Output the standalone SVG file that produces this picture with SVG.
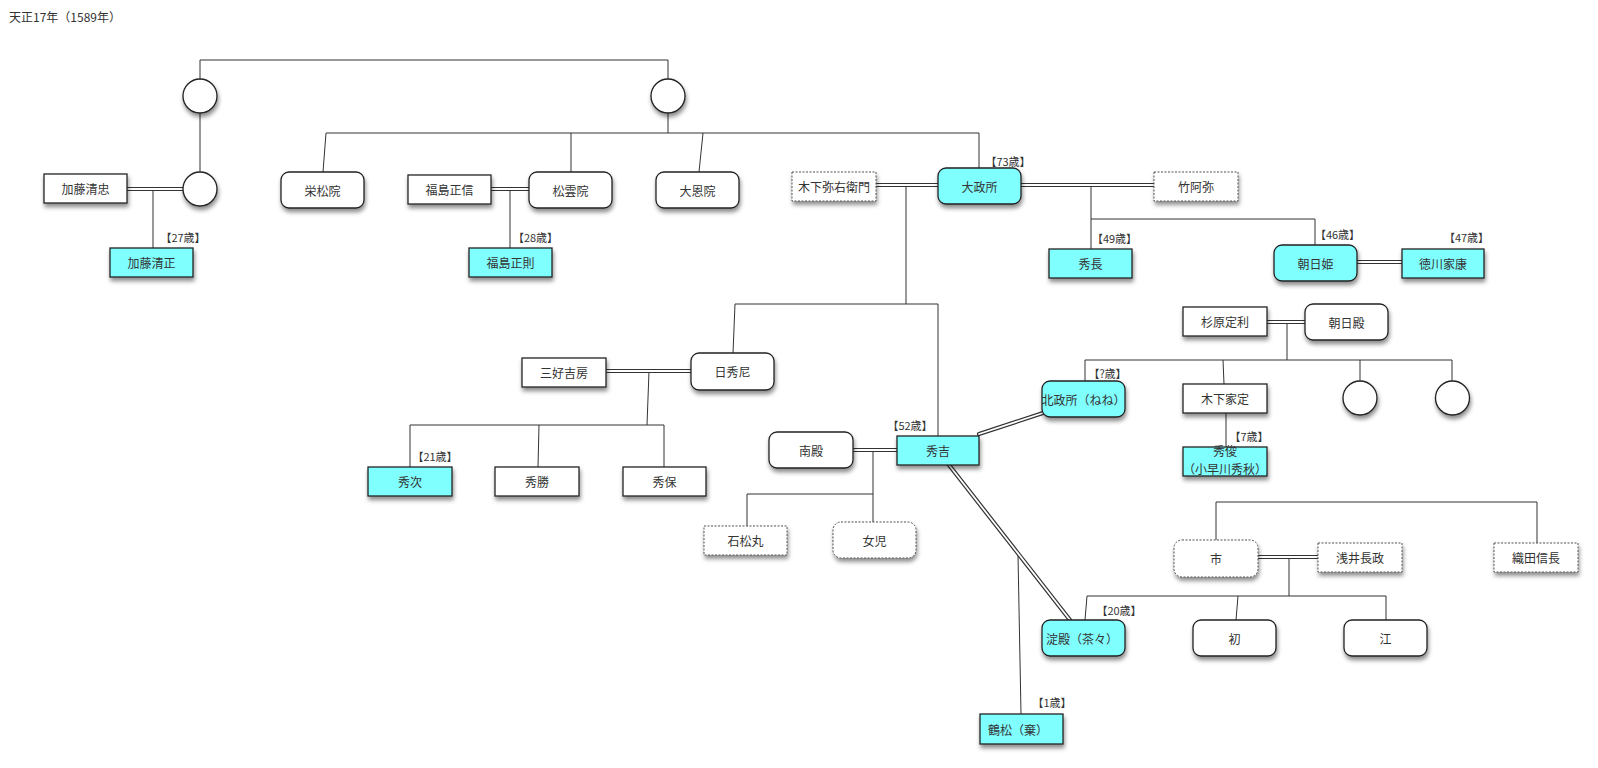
<svg xmlns="http://www.w3.org/2000/svg" width="1598" height="768" viewBox="0 0 1598 768">
<defs>
<filter id="sh" x="-20%" y="-30%" width="150%" height="180%">
<feDropShadow dx="1" dy="3.5" stdDeviation="2" flood-color="#000" flood-opacity="0.45"/>
</filter>
<style>
.n{fill:#fff;stroke:#222;stroke-width:1.3;filter:url(#sh)}
.c{fill:#80ffff}
.d{stroke:#555;stroke-width:1;stroke-dasharray:2 1.5}
text{font-family:"Noto Sans CJK JP","Noto Sans",sans-serif;font-size:12px;fill:#333;text-anchor:middle;dominant-baseline:central}
.age{font-size:11px}
.l{fill:none;stroke:#333;stroke-width:1}
.dbo{fill:none;stroke:#333;stroke-width:4.2;stroke-linecap:round}
.dbi{fill:none;stroke:#fff;stroke-width:1.8;stroke-linecap:round}
</style>
</defs>
<rect width="1598" height="768" fill="#fff"/>
<text x="9" y="16" style="text-anchor:start">天正17年（1589年）</text>

<g id="connectors">
<g class="l">
<path d="M200,79 V60 H668 V79"/>
<path d="M200,113 V172"/>
<path d="M668,113 V133"/>
<path d="M326,133 H979 V168"/>
<path d="M326,133 L323,172"/>
<path d="M571,133 V172"/>
<path d="M703,133 L699,172"/>
<path d="M153,189 V248"/>
<path d="M510,189 V248"/>
<path d="M906,185 V304"/>
<path d="M735,304 H938 V436"/>
<path d="M735,304 L733,353"/>
<path d="M1091,185 V249"/>
<path d="M1091,219 H1315 V245"/>
<path d="M649,371 L647,425"/>
<path d="M410,467 V425 H664 V467"/>
<path d="M539,425 L538,467"/>
<path d="M1287,322 V360"/>
<path d="M1085,381 V360 H1452 V381"/>
<path d="M1223,360 L1224,384"/>
<path d="M1360,360 V381"/>
<path d="M1226,413 V447"/>
<path d="M873,450 V522"/>
<path d="M873,494 H747 V526"/>
<path d="M1289,557 V596"/>
<path d="M1087,596 L1085,620"/>
<path d="M1087,596 H1386 V620"/>
<path d="M1238,596 L1236,620"/>
<path d="M1216,540 V502 H1537 V543"/>
<path d="M1018,555 L1021,714"/>
</g>
<g class="dbo">
<path d="M127,189 H183"/>
<path d="M491,189 H529"/>
<path d="M876,185 H938"/>
<path d="M1021,185 H1154"/>
<path d="M1357,262 H1402"/>
<path d="M1267,322 H1305"/>
<path d="M606,371 H691"/>
<path d="M853,450 H897"/>
<path d="M979,434 L1043,413"/>
<path d="M949,465 L1070,620"/>
<path d="M1258,557 H1318"/>
</g>
<g class="dbi">
<path d="M127,189 H183"/>
<path d="M491,189 H529"/>
<path d="M876,185 H938"/>
<path d="M1021,185 H1154"/>
<path d="M1357,262 H1402"/>
<path d="M1267,322 H1305"/>
<path d="M606,371 H691"/>
<path d="M853,450 H897"/>
<path d="M979,434 L1043,413"/>
<path d="M949,465 L1070,620"/>
<path d="M1258,557 H1318"/>
</g>
</g>

<g id="circle1"><circle class="n" cx="200" cy="96" r="17"/></g>
<g id="circle2"><circle class="n" cx="668" cy="96" r="17"/></g>
<g id="circle3"><circle class="n" cx="200" cy="189" r="17"/></g>
<g id="circle4"><circle class="n" cx="1360" cy="398" r="17"/></g>
<g id="circle5"><circle class="n" cx="1452.5" cy="398" r="17"/></g>

<g id="kato-kiyotada"><rect class="n" x="44" y="174" width="83" height="29"/><text x="85.5" y="188.5">加藤清忠</text></g>
<g id="kato-kiyomasa"><rect class="n c" x="110" y="248" width="83" height="29"/><text x="151.5" y="262.5">加藤清正</text><text class="age" x="183" y="237">【27歳】</text></g>
<g id="eishoin"><rect class="n" x="281" y="172" width="83" height="36" rx="8"/><text x="322.5" y="190">栄松院</text></g>
<g id="fukushima-masanobu"><rect class="n" x="408" y="175" width="83" height="29"/><text x="449.5" y="189.5">福島正信</text></g>
<g id="shouunin"><rect class="n" x="529" y="172" width="83" height="36" rx="8"/><text x="570.5" y="190">松雲院</text></g>
<g id="daionin"><rect class="n" x="656" y="172" width="83" height="36" rx="8"/><text x="697.5" y="190">大恩院</text></g>
<g id="fukushima-masanori"><rect class="n c" x="469" y="248" width="83" height="29"/><text x="510.5" y="262.5">福島正則</text><text class="age" x="535.5" y="237">【28歳】</text></g>
<g id="kinoshita-yaemon"><rect class="n d" x="792" y="172" width="84" height="29"/><text x="834" y="186.5">木下弥右衛門</text></g>
<g id="omandokoro"><rect class="n c" x="938" y="168" width="83" height="36" rx="8"/><text x="979.5" y="186">大政所</text><text class="age" x="1008" y="161">【73歳】</text></g>
<g id="chikuami"><rect class="n d" x="1154" y="172" width="84" height="29"/><text x="1196" y="186.5">竹阿弥</text></g>
<g id="hidenaga"><rect class="n c" x="1049" y="249" width="83" height="29"/><text x="1090.5" y="263.5">秀長</text><text class="age" x="1114.5" y="238">【49歳】</text></g>
<g id="asahihime"><rect class="n c" x="1274" y="245" width="83" height="36" rx="8"/><text x="1315.5" y="263">朝日姫</text><text class="age" x="1337.5" y="234">【46歳】</text></g>
<g id="tokugawa-ieyasu"><rect class="n c" x="1402" y="249" width="82" height="29"/><text x="1443" y="263.5">徳川家康</text><text class="age" x="1466.5" y="237">【47歳】</text></g>
<g id="sugihara-sadatoshi"><rect class="n" x="1183" y="307" width="84" height="29"/><text x="1225" y="321.5">杉原定利</text></g>
<g id="asahidono"><rect class="n" x="1305" y="304" width="83" height="36" rx="8"/><text x="1346.5" y="322">朝日殿</text></g>
<g id="miyoshi-yoshifusa"><rect class="n" x="522" y="358" width="84" height="29"/><text x="564" y="372.5">三好吉房</text></g>
<g id="nisshuni"><rect class="n" x="691" y="353" width="83" height="37" rx="8"/><text x="732.5" y="371.5">日秀尼</text></g>
<g id="kitanomandokoro"><rect class="n c" x="1042" y="381" width="83" height="36" rx="8"/><text x="1083.5" y="399">北政所（ねね）</text><text class="age" x="1107.5" y="373">【?歳】</text></g>
<g id="kinoshita-iesada"><rect class="n" x="1183" y="384" width="84" height="29"/><text x="1225" y="398.5">木下家定</text></g>
<g id="hidetoshi"><rect class="n c" x="1183" y="447" width="84" height="29"/><text x="1225" y="450">秀俊</text><text x="1225" y="468">（小早川秀秋）</text><text class="age" x="1249" y="436">【7歳】</text></g>
<g id="hidetsugu"><rect class="n c" x="368" y="467" width="84" height="29"/><text x="410" y="481.5">秀次</text><text class="age" x="435" y="456">【21歳】</text></g>
<g id="hidekatsu"><rect class="n" x="495" y="467" width="84" height="29"/><text x="537" y="481.5">秀勝</text></g>
<g id="hideyasu"><rect class="n" x="623" y="467" width="83" height="29"/><text x="664.5" y="481.5">秀保</text></g>
<g id="minamidono"><rect class="n" x="769" y="432" width="84" height="36" rx="8"/><text x="811" y="450">南殿</text></g>
<g id="hideyoshi"><rect class="n c" x="897" y="436" width="82" height="29"/><text x="938" y="450.5">秀吉</text><text class="age" x="910" y="425">【52歳】</text></g>
<g id="ishimatsumaru"><rect class="n d" x="704" y="526" width="83" height="29"/><text x="745.5" y="540.5">石松丸</text></g>
<g id="joji"><rect class="n d" x="833" y="522" width="83" height="36" rx="8"/><text x="874.5" y="540">女児</text></g>
<g id="ichi"><rect class="n d" x="1174" y="540" width="84" height="37" rx="8"/><text x="1216" y="558.5">市</text></g>
<g id="azai-nagamasa"><rect class="n d" x="1318" y="543" width="84" height="29"/><text x="1360" y="557.5">浅井長政</text></g>
<g id="oda-nobunaga"><rect class="n d" x="1494" y="543" width="84" height="29"/><text x="1536" y="557.5">織田信長</text></g>
<g id="yodo"><rect class="n c" x="1042" y="620" width="83" height="36" rx="8"/><text x="1082" y="638">淀殿（茶々）</text><text class="age" x="1119" y="610">【20歳】</text></g>
<g id="hatsu"><rect class="n" x="1193" y="620" width="83" height="36" rx="8"/><text x="1234.5" y="638">初</text></g>
<g id="go"><rect class="n" x="1344" y="620" width="83" height="36" rx="8"/><text x="1385.5" y="638">江</text></g>
<g id="tsurumatsu"><rect class="n c" x="980" y="714" width="83" height="30"/><text x="1018" y="729">鶴松（棄）</text><text class="age" x="1052" y="702">【1歳】</text></g>
</svg>
